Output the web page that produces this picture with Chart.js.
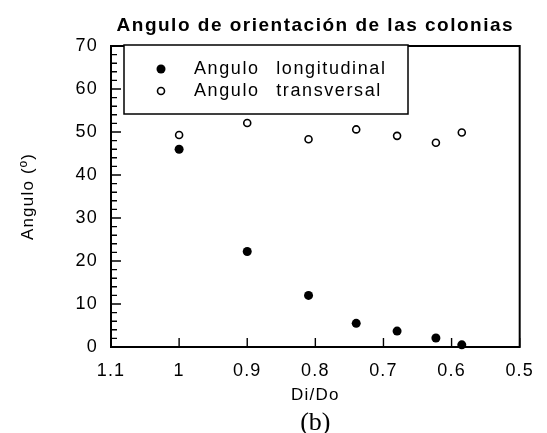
<!DOCTYPE html>
<html>
<head>
<meta charset="utf-8">
<script src="https://cdn.jsdelivr.net/npm/chart.js@4"></script>
<style>
  html, body { margin: 0; padding: 0; background: #fff; }
</style>
</head>
<body>
<canvas id="anguloChart" width="547" height="433"></canvas>
<script>
// Datos
const diDo = [1.0, 0.9, 0.81, 0.74, 0.68, 0.623, 0.585];
const anguloLongitudinal = [46, 22.2, 12, 5.5, 3.7, 2.1, 0.5];
const anguloTransversal = [49.3, 52.1, 48.3, 50.6, 49.1, 47.5, 49.9];
const seriesLabels = ['Angulo longitudinal', 'Angulo transversal'];
const xTicks = [1.1, 1.0, 0.9, 0.8, 0.7, 0.6, 0.5];
const yTicks = [0, 10, 20, 30, 40, 50, 60, 70];

const FAMILY = '"Liberation Sans", Arial, Helvetica, sans-serif';

// Marco, marcas interiores, título, leyenda y "(b)"
const marcoPlugin = {
  id: 'marco',
  beforeLayout(chart) { chart.ctx.letterSpacing = '1.2px'; },
  beforeDraw(chart) { chart.ctx.letterSpacing = '1.2px'; },
  afterDraw(chart) {
    const { ctx, chartArea: a, scales: { x, y } } = chart;
    ctx.save();
    ctx.strokeStyle = '#000';
    ctx.lineWidth = 2;
    ctx.strokeRect(a.left, a.top, a.right - a.left, a.bottom - a.top);

    // marcas de los ejes (hacia dentro)
    ctx.lineWidth = 1.4;
    ctx.beginPath();
    xTicks.forEach(v => {
      const px = x.getPixelForValue(v);
      ctx.moveTo(px, a.bottom);
      ctx.lineTo(px, a.bottom - 9);
    });
    for (let v = yTicks[0]; v <= yTicks[yTicks.length - 1]; v += 2) {
      const py = y.getPixelForValue(v);
      const len = v % 10 === 0 ? 10 : 6;
      ctx.moveTo(a.left, py);
      ctx.lineTo(a.left + len, py);
    }
    ctx.stroke();

    // título
    ctx.fillStyle = '#000';
    ctx.letterSpacing = '1.5px';
    ctx.font = 'bold 19px ' + FAMILY;
    ctx.textAlign = 'center';
    ctx.textBaseline = 'middle';
    ctx.fillText('Angulo de orientación de las colonias', (a.left + a.right) / 2, 26);

    // (b)
    ctx.letterSpacing = '0px';
    ctx.font = '26px "Liberation Serif", "Times New Roman", serif';
    ctx.fillText('(b)', (a.left + a.right) / 2, chart.height - 10);

    // leyenda
    const bx = a.left + 13, by = a.top - 1, bw = 284, bh = 69;
    ctx.fillStyle = '#fff';
    ctx.fillRect(bx, by, bw, bh);
    ctx.strokeStyle = '#000';
    ctx.lineWidth = 1.5;
    ctx.strokeRect(bx, by, bw, bh);
    ctx.font = '18px ' + FAMILY;
    ctx.letterSpacing = '1.6px';
    ctx.wordSpacing = '10px';
    ctx.textAlign = 'left';
    chart.data.datasets.forEach((ds, i) => {
      const ry = by + 24 + i * 22;
      const mx = bx + 37;
      ctx.beginPath();
      ctx.arc(mx, ry, ds.pointRadius, 0, Math.PI * 2);
      ctx.fillStyle = ds.backgroundColor;
      ctx.fill();
      if (ds.borderWidth > 0) {
        ctx.lineWidth = ds.borderWidth;
        ctx.strokeStyle = ds.borderColor;
        ctx.stroke();
      }
      ctx.fillStyle = '#000';
      ctx.fillText(ds.label, bx + 70, ry);
    });
    ctx.restore();
  }
};

const ctx = document.getElementById('anguloChart').getContext('2d');

new Chart(ctx, {
  type: 'scatter',
  data: {
    datasets: [
      {
        label: seriesLabels[0],
        data: diDo.map((d, i) => ({ x: d, y: anguloLongitudinal[i] })),
        pointRadius: 4.5,
        backgroundColor: '#000',
        borderColor: '#000',
        borderWidth: 0,
        clip: false
      },
      {
        label: seriesLabels[1],
        data: diDo.map((d, i) => ({ x: d, y: anguloTransversal[i] })),
        pointRadius: 3.5,
        backgroundColor: '#fff',
        borderColor: '#000',
        borderWidth: 1.6,
        clip: false
      }
    ]
  },
  options: {
    responsive: false,
    animation: false,
    layout: { padding: { top: 46, right: 24, left: 0, bottom: 0 } },
    plugins: {
      legend: { display: false },
      title: { display: false },
      tooltip: { enabled: false }
    },
    scales: {
      x: {
        type: 'linear',
        reverse: true,
        min: 0.5,
        max: 1.1,
        afterBuildTicks: s => { s.ticks = xTicks.map(v => ({ value: v })); },
        afterFit: s => { s.height = 86; },
        ticks: {
          color: '#000',
          padding: 13,
          font: { size: 18, family: FAMILY },
          maxRotation: 0,
          callback: v => String(Number(v.toFixed(1)))
        },
        grid: { display: false, drawTicks: false },
        border: { display: false },
        title: {
          display: true,
          text: 'Di/Do',
          color: '#000',
          font: { size: 17, family: FAMILY },
          padding: 27
        }
      },
      y: {
        min: 0,
        max: 70,
        afterBuildTicks: s => { s.ticks = yTicks.map(v => ({ value: v })); },
        afterFit: s => { s.width = 111; },
        ticks: {
          color: '#000',
          padding: 13,
          font: { size: 18, family: FAMILY }
        },
        grid: { display: false, drawTicks: false },
        border: { display: false },
        title: {
          display: true,
          text: 'Angulo (º)',
          color: '#000',
          font: { size: 17, family: FAMILY },
          padding: 18
        }
      }
    }
  },
  plugins: [marcoPlugin]
});
</script>
</body>
</html>
